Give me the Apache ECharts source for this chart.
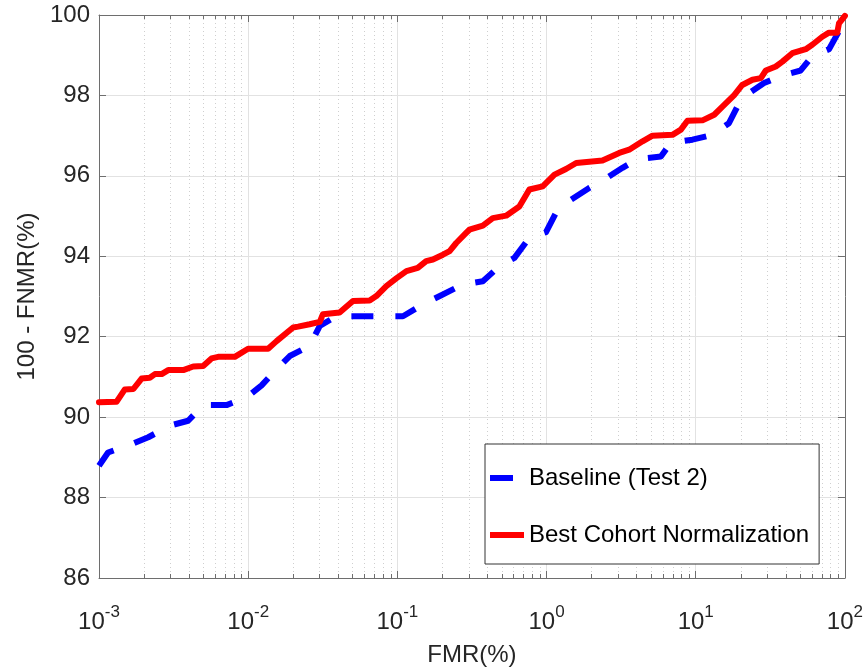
<!DOCTYPE html>
<html>
<head>
<meta charset="utf-8">
<script src="https://cdn.jsdelivr.net/npm/echarts@6/dist/echarts.min.js"></script>
<style>
html,body{margin:0;padding:0;background:#fff;}
#chart{width:866px;height:672px;}
</style>
</head>
<body>
<div id="chart"></div>
<script>
// ---- data ----
const fmrBase = [0.001, 0.00115, 0.00166, 0.00214, 0.00299, 0.00396, 0.00499, 0.00716, 0.00974, 0.0123, 0.0155, 0.019, 0.0258, 0.0302, 0.039, 0.109, 0.152, 0.197, 0.275, 0.374, 0.483, 0.609, 0.767, 0.992, 1.16, 1.46, 1.93, 2.44, 3.23, 4.07, 5.84, 6.81, 9.5, 12.9, 16.7, 19.0, 22.8, 28.7, 39.1, 50.5, 60.4, 78.2, 93.6, 100];
const tprBase = [88.79, 89.12, 89.33, 89.5, 89.79, 89.91, 90.3, 90.3, 90.49, 90.79, 91.19, 91.52, 91.77, 92.27, 92.51, 92.51, 92.83, 93.03, 93.3, 93.38, 93.75, 93.96, 94.46, 94.6, 95.09, 95.41, 95.7, 95.91, 96.2, 96.42, 96.48, 96.82, 96.9, 97.02, 97.31, 97.72, 98.06, 98.31, 98.51, 98.62, 98.98, 99.15, 99.67, 99.96];

const fmrBest = [0.001, 0.00131, 0.00149, 0.0017, 0.00193, 0.00219, 0.00237, 0.00263, 0.00291, 0.00367, 0.00428, 0.00499, 0.00568, 0.00629, 0.00813, 0.00998, 0.0136, 0.0155, 0.02, 0.0216, 0.0258, 0.0302, 0.0317, 0.041, 0.0504, 0.0652, 0.0723, 0.0843, 0.0983, 0.115, 0.137, 0.156, 0.173, 0.202, 0.224, 0.248, 0.289, 0.304, 0.374, 0.436, 0.536, 0.657, 0.767, 0.942, 1.13, 1.35, 1.58, 2.37, 3.07, 3.58, 4.4, 5.13, 6.98, 7.95, 8.8, 11.1, 13.3, 15.1, 18.1, 20.5, 24.0, 27.3, 29.5, 34.4, 38.1, 44.4, 54.6, 60.4, 70.5, 78.2, 88.8, 91.2, 100];
const tprBest = [90.37, 90.38, 90.69, 90.7, 90.96, 90.98, 91.07, 91.07, 91.17, 91.17, 91.26, 91.27, 91.46, 91.5, 91.5, 91.7, 91.7, 91.89, 92.23, 92.25, 92.31, 92.37, 92.56, 92.6, 92.89, 92.9, 93.01, 93.26, 93.45, 93.63, 93.71, 93.88, 93.92, 94.04, 94.13, 94.33, 94.58, 94.66, 94.76, 94.95, 95.01, 95.24, 95.66, 95.74, 96.03, 96.17, 96.32, 96.38, 96.57, 96.65, 96.86, 97.0, 97.02, 97.15, 97.37, 97.38, 97.52, 97.72, 98.01, 98.26, 98.39, 98.43, 98.62, 98.72, 98.84, 99.05, 99.15, 99.26, 99.46, 99.56, 99.56, 99.79, 99.98];

const seriesNames = ['Baseline (Test 2)', 'Best Cohort Normalization'];
const xMin = 0.001, xMax = 100;
const yMin = 86, yMax = 100, yStep = 2;

// minor x positions (2..9 within each decade) for the dotted minor grid
const minorX = [];
for (let e = -3; e < 2; e++) {
  for (let k = 2; k <= 9; k++) minorX.push([k * Math.pow(10, e), yMin]);
}

const zip = (a, b) => a.map((v, i) => [v, b[i]]);

const FONT = '"Liberation Sans", Arial, Helvetica, sans-serif';
const TXT = '#262626';
const AX = '#6e6e6e';
const BLUE = '#0000ff', RED = '#ff0000';

const chart = echarts.init(document.getElementById('chart'), null, {renderer: 'canvas'});

const option = {
  animation: false,
  backgroundColor: '#ffffff',
  grid: {left: 99, top: 15, right: 20, bottom: 93, containLabel: false},
  legend: {
    data: [
      {name: seriesNames[0], icon: 'path://M0 0H23V6H0Z M34 0L34 6', itemStyle: {color: BLUE, borderWidth: 0}},
      {name: seriesNames[1], icon: 'rect', itemStyle: {color: RED, borderWidth: 0}}
    ],
    orient: 'vertical',
    left: 485, top: 444,
    backgroundColor: '#ffffff',
    borderColor: '#333333',
    borderWidth: 1,
    borderRadius: 0,
    padding: [22, 10, 17, 5],
    itemGap: 33,
    itemWidth: 34,
    itemHeight: 6,
    textStyle: {fontFamily: FONT, fontSize: 24, color: '#000'},
    selectedMode: false
  },
  xAxis: [{
    type: 'log', logBase: 10, min: xMin, max: xMax,
    position: 'bottom',
    name: 'FMR(%)', nameLocation: 'middle', nameGap: 65,
    nameTextStyle: {fontFamily: FONT, fontSize: 24, color: TXT},
    axisLine: {show: true, lineStyle: {color: AX, width: 1}},
    axisTick: {show: true, inside: true, length: 7, lineStyle: {color: AX}},
    splitLine: {show: true, lineStyle: {color: '#e2e2e2', width: 1}},
    axisLabel: {
      margin: 26,
      formatter: v => '{b|10}{s|' + Math.round(Math.log10(v)) + '}',
      rich: {
        b: {fontFamily: FONT, fontSize: 24, color: TXT, verticalAlign: 'bottom', lineHeight: 30},
        s: {fontFamily: FONT, fontSize: 17, color: TXT, verticalAlign: 'top', lineHeight: 30, padding: [0, 0, 12, 0]}
      }
    }
  }, {
    type: 'log', logBase: 10, min: xMin, max: xMax,
    position: 'top',
    axisLine: {show: true, lineStyle: {color: AX, width: 1}},
    axisTick: {show: true, inside: true, length: 7, lineStyle: {color: AX}},
    axisLabel: {show: false},
    splitLine: {show: false}
  }],
  yAxis: [{
    type: 'value', min: yMin, max: yMax, interval: yStep,
    name: '100 - FNMR(%)', nameLocation: 'middle', nameGap: 60, nameRotate: 90,
    nameTextStyle: {fontFamily: FONT, fontSize: 24, color: TXT},
    axisLine: {show: true, lineStyle: {color: AX, width: 1}},
    axisTick: {show: true, inside: true, length: 7, lineStyle: {color: AX}},
    splitLine: {show: true, lineStyle: {color: '#e2e2e2', width: 1}},
    axisLabel: {fontFamily: FONT, fontSize: 24, color: TXT, margin: 9}
  }, {
    type: 'value', min: yMin, max: yMax, interval: yStep,
    position: 'right',
    axisLine: {show: true, lineStyle: {color: AX, width: 1}},
    axisTick: {show: true, inside: true, length: 7, lineStyle: {color: AX}},
    axisLabel: {show: false},
    splitLine: {show: false}
  }],
  series: [{
    type: 'custom',
    name: 'minorGrid',
    silent: true,
    z: 1,
    xAxisIndex: 0, yAxisIndex: 0,
    data: minorX,
    renderItem: function (params, api) {
      const x = api.value(0);
      const top = api.coord([x, yMax]);
      const bot = api.coord([x, yMin]);
      const px = Math.round(top[0]) + 0.5;
      return {
        type: 'group',
        children: [
          {type: 'line', shape: {x1: px, y1: top[1], x2: px, y2: bot[1]},
           style: {stroke: '#cfcfcf', lineWidth: 1, lineDash: [1, 3]}},
          {type: 'line', shape: {x1: px, y1: bot[1], x2: px, y2: bot[1] - 4},
           style: {stroke: AX, lineWidth: 1}},
          {type: 'line', shape: {x1: px, y1: top[1], x2: px, y2: top[1] + 4},
           style: {stroke: AX, lineWidth: 1}}
        ]
      };
    }
  }, {
    type: 'line',
    name: seriesNames[0],
    data: zip(fmrBase, tprBase),
    showSymbol: false, symbol: 'none',
    z: 3,
    color: BLUE,
    lineStyle: {color: BLUE, width: 6, type: [22, 22], cap: 'butt', join: 'round'}
  }, {
    type: 'line',
    name: seriesNames[1],
    data: zip(fmrBest, tprBest),
    showSymbol: false, symbol: 'none',
    z: 4,
    color: RED,
    lineStyle: {color: RED, width: 6, cap: 'round', join: 'round'}
  }]
};
chart.setOption(option);
</script>
</body>
</html>
